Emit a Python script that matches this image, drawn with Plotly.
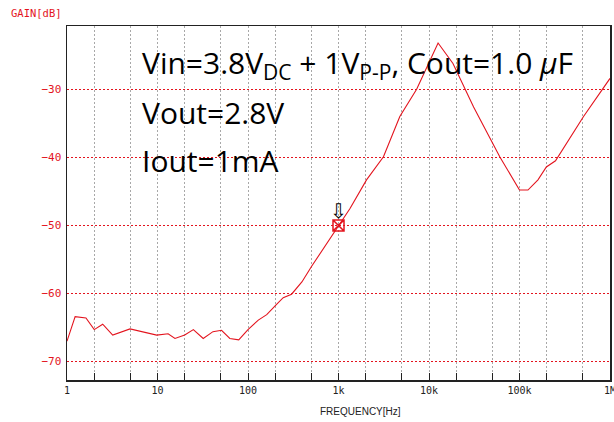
import numpy as np
import plotly.graph_objects as go

# ---- data ----
freq_hz = [1, 1.23, 1.62, 2.0, 2.48, 3.2, 4.97, 6.7, 9.8, 13.1, 15.6, 20, 24.9, 32, 41, 51, 63, 79,
           100, 130, 161, 203, 245, 303, 394, 505, 1000, 1340, 2040, 3140, 4760, 7300, 12600,
           18400, 31100, 60500, 100000, 124000, 160000, 198000, 250000, 510000, 1000000]
gain_db = [-67.0, -63.4, -63.6, -65.3, -64.5, -66.1, -65.2, -65.6, -66.1, -65.9, -66.6, -66.1, -65.3,
           -66.6, -65.6, -65.4, -66.6, -66.8, -65.3, -63.9, -63.1, -61.7, -60.6, -60.1, -58.3, -56.0,
           -50.0, -47.5, -43.3, -39.9, -34.0, -30.0, -23.2, -26.2, -32.6, -39.9, -44.8, -44.8, -43.3,
           -41.4, -40.5, -34.0, -28.4]

cursor_freq = [1000]
cursor_gain = [-50]

x_tick_vals = [1, 2, 5, 10, 20, 50, 100, 200, 500, 1e3, 2e3, 5e3, 1e4, 2e4, 5e4, 1e5, 2e5, 5e5, 1e6]
x_tick_text = ["1", "", "", "10", "", "", "100", "", "", "1k", "", "", "10k", "", "", "100k", "", "", "1M"]
y_tick_vals = [-30, -40, -50, -60, -70]

title_lines = ["Vin=3.8V<sub>DC</sub> + 1V<sub>P-P</sub>, Cout=1.0 <i>\u03bc</i>F", "Vout=2.8V", "Iout=1mA"]

RED = "#e3141e"

fig = go.Figure()
fig.add_trace(go.Scatter(x=freq_hz, y=gain_db, mode="lines",
                         line=dict(color=RED, width=1.1), hoverinfo="skip"))
fig.add_trace(go.Scatter(x=cursor_freq, y=cursor_gain, mode="markers",
                         marker=dict(symbol="square-x-open", size=11, color=RED,
                                     line=dict(width=1.5, color=RED)), hoverinfo="skip"))

fig.add_annotation(x=np.log10(cursor_freq[0]), y=cursor_gain[0], xref="x", yref="y",
                   text="\u21e9", showarrow=False, yshift=14,
                   font=dict(family="DejaVu Sans", size=20, color="black"))

text_y = [0.893, 0.757, 0.620]
for line, ty in zip(title_lines, text_y):
    fig.add_annotation(x=0.135, y=ty, xref="paper", yref="paper", text=line, showarrow=False,
                       xanchor="left", yanchor="middle",
                       font=dict(family="Open Sans", size=30, color="black"))

fig.add_annotation(x=-0.106, y=1.038, xref="paper", yref="paper", text="GAIN[dB]", showarrow=False,
                   xanchor="left", yanchor="middle",
                   font=dict(family="DejaVu Sans Mono", size=10.5, color=RED))
fig.add_annotation(x=0.5405, y=-0.09, xref="paper", yref="paper", text="FREQUENCY[Hz]", showarrow=False,
                   xanchor="center", yanchor="middle",
                   font=dict(family="Liberation Sans", size=10, color="#222222"))

fig.update_layout(
    width=614, height=422,
    margin=dict(l=67, r=4, t=26, b=42, autoexpand=False),
    paper_bgcolor="white", plot_bgcolor="white",
    showlegend=False,
    xaxis=dict(type="log", range=[0, 6], tickvals=x_tick_vals, ticktext=x_tick_text,
               ticks="inside", ticklen=7, tickcolor="#222222", tickwidth=1,
               showgrid=True, gridcolor="#a8a8a8", griddash="2px,2px", gridwidth=1,
               showline=True, linecolor="#222222", linewidth=1.5, mirror=True,
               tickfont=dict(family="DejaVu Sans Mono", size=10, color="#222222"),
               ticklabeloverflow="allow",
               automargin=False, zeroline=False, fixedrange=True),
    yaxis=dict(range=[-72.7, -20.7], tickvals=y_tick_vals,
               ticks="", showgrid=True, gridcolor=RED, griddash="2px,2px", gridwidth=1,
               showline=True, linecolor="#222222", linewidth=1.5, mirror=True,
               tickfont=dict(family="DejaVu Sans Mono", size=11, color=RED),
               ticklabelstandoff=2, automargin=False,
               zeroline=False, fixedrange=True),
)

# remove the default 8px page margin so the 614x422 figure fills the window exactly
fig.write_html("out.html", config={"displayModeBar": False, "staticPlot": True},
               post_script="document.body.style.margin='0';document.body.style.overflow='hidden';")
